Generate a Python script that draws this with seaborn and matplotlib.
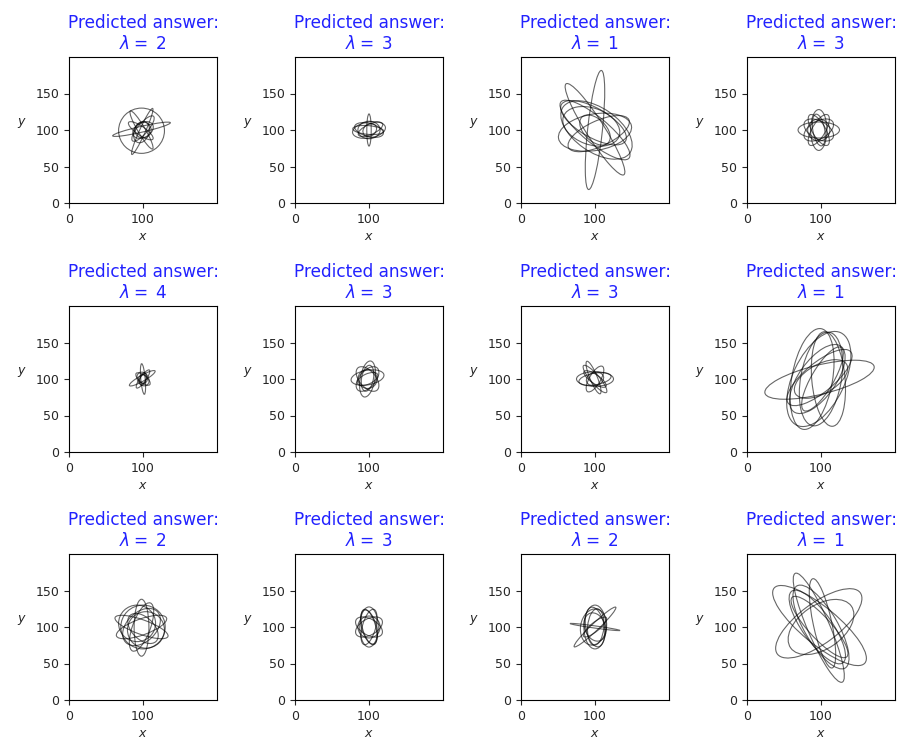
import matplotlib
matplotlib.use("Agg")
import matplotlib.pyplot as plt
import seaborn as sns
from matplotlib.patches import Ellipse

sns.set_style("ticks")
plt.rcParams["font.family"] = ["DejaVu Sans"]

# predicted lambda shown above each panel (row by row)
predicted = [2, 3, 1, 3, 4, 3, 3, 1, 2, 3, 2, 1]

# loops traced in each panel:
# (centre x, centre y, width, height, angle in degrees)
p1 = [(98, 99, 62, 62, 0), (98, 101, 80, 8, 13), (99, 98, 69, 8, 66),
      (98, 100, 60, 10, 120), (100, 100, 30, 20, 30), (98, 97, 20, 30, -20),
      (100, 102, 44, 14, 50), (97, 99, 40, 12, -35), (100, 100, 22, 22, 0)]
p2 = [(100, 100, 45, 22, 10), (100, 100, 40, 18, -15), (100, 100, 6, 44, 0),
      (100, 100, 30, 24, 0), (102, 101, 36, 14, 25), (99, 100, 42, 12, -5),
      (101, 100, 20, 16, 40)]
p3 = [(100, 100, 164, 20, 84), (102, 100, 110, 60, -35), (100, 101, 147, 25, -58),
      (100, 97, 100, 50, 10), (95, 105, 80, 50, -20), (100, 100, 50, 30, -45),
      (98, 110, 100, 40, -30), (105, 95, 90, 35, 25), (100, 100, 120, 35, -40)]
p4 = [(97, 100, 56, 22, 0), (97, 100, 22, 56, 0), (97, 100, 48, 18, 60),
      (97, 100, 48, 18, -60), (97, 100, 30, 30, 0), (97, 100, 44, 24, 30),
      (97, 100, 44, 24, -30), (97, 100, 16, 44, 10)]
p5 = [(99, 101, 40, 8, 30), (100, 100, 42, 6, 95), (100, 100, 15, 20, 30),
      (100, 100, 24, 10, -40), (100, 100, 12, 12, 0), (100, 100, 30, 8, 55),
      (100, 100, 18, 8, 75)]
p6 = [(98, 102, 45, 20, 10), (98, 100, 20, 50, -10), (98, 100, 40, 22, 50),
      (98, 100, 40, 22, -50), (98, 100, 26, 26, 0), (98, 101, 36, 16, 80),
      (98, 100, 30, 14, 25)]
p7 = [(100, 100, 50, 20, 0), (100, 100, 48, 12, -50), (98, 102, 48, 10, -68),
      (100, 100, 40, 15, 60), (100, 100, 24, 18, 20), (100, 100, 36, 12, -35),
      (100, 100, 44, 16, 10)]
p8 = [(98, 99, 152, 40, 14), (97, 100, 140, 70, 65), (100, 100, 130, 55, 80),
      (95, 100, 110, 50, 55), (110, 100, 130, 45, 95), (100, 100, 80, 40, 30),
      (88, 100, 140, 55, 80), (98, 102, 110, 40, 40), (102, 100, 100, 30, 60)]
p9 = [(100, 100, 60, 60, 0), (92, 105, 50, 50, 0), (98, 99, 78, 20, 90),
      (98, 100, 76, 20, -20), (98, 100, 60, 40, 45), (100, 98, 50, 30, -45),
      (104, 96, 50, 50, 0), (98, 100, 70, 24, 70), (98, 100, 72, 22, 20)]
p10 = [(100, 100, 25, 55, 0), (100, 100, 40, 22, 30), (100, 100, 40, 22, -30),
       (100, 100, 50, 18, 75), (100, 100, 50, 18, -75), (100, 100, 30, 30, 0),
       (100, 100, 20, 48, 15)]
p11 = [(100, 100, 68, 3, -8), (100, 100, 78, 10, 44), (100, 100, 30, 60, 0),
       (100, 100, 25, 55, 10), (98, 100, 35, 50, -10), (100, 100, 28, 40, 20),
       (101, 100, 22, 50, -5), (100, 100, 40, 12, 40)]
p12 = [(98, 102, 160, 50, -40), (97, 105, 140, 55, 37), (97, 99, 162, 30, -67),
       (102, 105, 125, 25, -78), (95, 100, 120, 40, -55), (100, 100, 130, 45, -60),
       (98, 100, 110, 30, -48), (100, 100, 100, 60, 35)]
panels = [p1, p2, p3, p4, p5, p6, p7, p8, p9, p10, p11, p12]

x_ticks = [0, 100]
y_ticks = [0, 50, 100, 150]

W, H = 899, 740
fig = plt.figure(figsize=(W / 100, H / 100), dpi=100)

col_left = [69, 295, 521, 747]
row_top = [57, 306, 554]
aw, ah = 148, 146

for i, (loops, lam) in enumerate(zip(panels, predicted)):
    r, c = divmod(i, 4)
    ax = fig.add_axes([col_left[c] / W, 1 - (row_top[r] + ah) / H, aw / W, ah / H])
    for cx, cy, w, h, ang in loops:
        ax.add_patch(Ellipse((cx, cy), w, h, angle=ang, fill=False,
                             edgecolor="black", lw=0.8, alpha=0.6))
    ax.set_xlim(0, 200)
    ax.set_ylim(0, 200)
    ax.set_xticks(x_ticks)
    ax.set_yticks(y_ticks)
    ax.tick_params(labelsize=9, length=3.5, width=0.8)
    ax.set_xlabel("$x$", fontsize=9, labelpad=3)
    ax.set_ylabel("$y$", fontsize=9, rotation=0, labelpad=10)
    ax.set_title("Predicted answer:\n$\\lambda =$ %d" % lam, color="#2222ff",
                 fontsize=12.2)
    for s in ax.spines.values():
        s.set_color("black")
        s.set_linewidth(0.8)

fig.savefig("out.png", dpi=100)
